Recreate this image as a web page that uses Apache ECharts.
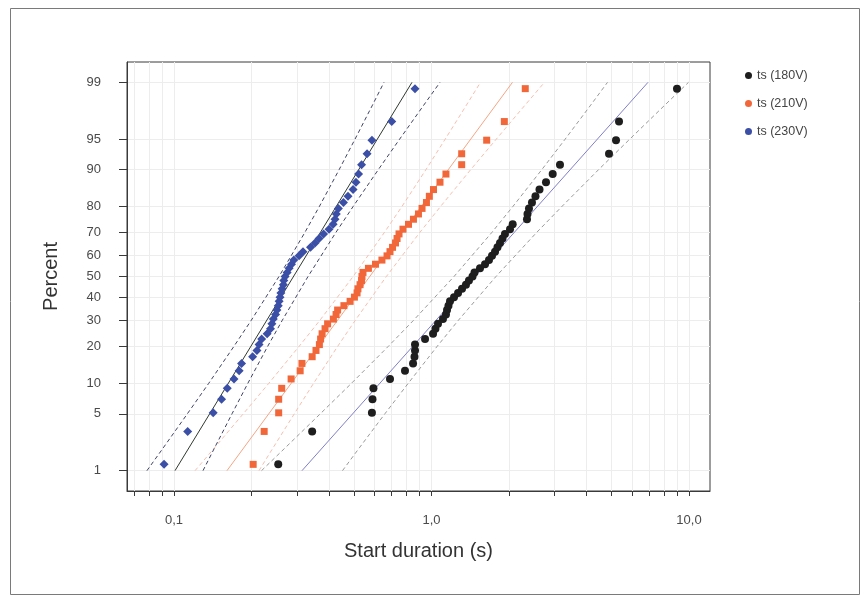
<!DOCTYPE html>
<html>
<head>
<meta charset="utf-8">
<script src="https://cdn.jsdelivr.net/npm/echarts@6/dist/echarts.min.js"></script>
<style>
html,body{margin:0;padding:0;background:#fff;}
#chart{width:865px;height:598px;}
</style>
</head>
<body>
<div id="chart"></div>
<script>
// ---- data ----
const seriesNames = ['ts (180V)', 'ts (210V)', 'ts (230V)'];
const percentTicks = [1, 5, 10, 20, 30, 40, 50, 60, 70, 80, 90, 95, 99];
const xLabelValues = [0.1, 1, 10];
const xLabelTexts = ['0,1', '1,0', '10,0'];
const xTickValues = [0.07, 0.08, 0.09, 0.1, 0.2, 0.3, 0.4, 0.5, 0.6, 0.7, 0.8, 0.9, 1, 2, 3, 4, 5, 6, 7, 8, 9, 10];

// plotting positions (percent) of the 51 ranked observations
const plotPercent = [1.22, 3.17, 5.12, 7.07, 9.02, 10.98, 12.93, 14.88, 16.83, 18.78,
  20.73, 22.68, 24.63, 26.59, 28.54, 30.49, 32.44, 34.39, 36.34, 38.29,
  40.24, 42.20, 44.15, 46.10, 48.05, 50.00, 51.95, 53.90, 55.85, 57.80,
  59.76, 61.71, 63.66, 65.61, 67.56, 69.51, 71.46, 73.41, 75.37, 77.32,
  79.27, 81.22, 83.17, 85.12, 87.07, 89.02, 90.98, 92.93, 94.88, 96.83, 98.78];

const ts180 = [0.254, 0.344, 0.587, 0.590, 0.595, 0.690, 0.789, 0.848, 0.859, 0.863,
  0.863, 0.944, 1.014, 1.036, 1.060, 1.108, 1.138, 1.149, 1.164, 1.180,
  1.223, 1.268, 1.314, 1.361, 1.398, 1.443, 1.469, 1.543, 1.614, 1.672,
  1.718, 1.765, 1.804, 1.845, 1.887, 1.929, 2.018, 2.067, 2.349, 2.360,
  2.391, 2.456, 2.534, 2.627, 2.784, 2.956, 3.155, 4.891, 5.207, 5.349, 8.982];
const ts210 = [0.203, 0.224, 0.255, 0.255, 0.262, 0.285, 0.309, 0.314, 0.344, 0.356,
  0.367, 0.371, 0.376, 0.386, 0.395, 0.416, 0.426, 0.432, 0.457, 0.483,
  0.502, 0.514, 0.518, 0.528, 0.535, 0.537, 0.542, 0.569, 0.606, 0.642,
  0.672, 0.690, 0.706, 0.725, 0.735, 0.748, 0.775, 0.814, 0.851, 0.890,
  0.919, 0.956, 0.981, 1.018, 1.079, 1.138, 1.310, 1.310, 1.638, 1.918, 2.313];
const ts230 = [0.0915, 0.113, 0.142, 0.153, 0.161, 0.171, 0.179, 0.183, 0.202, 0.210,
  0.214, 0.219, 0.230, 0.237, 0.240, 0.243, 0.248, 0.251, 0.254, 0.256,
  0.258, 0.260, 0.263, 0.266, 0.267, 0.270, 0.275, 0.280, 0.286, 0.292,
  0.306, 0.317, 0.339, 0.353, 0.366, 0.381, 0.400, 0.415, 0.422, 0.427,
  0.435, 0.455, 0.474, 0.496, 0.509, 0.521, 0.535, 0.562, 0.587, 0.701, 0.863];

// fitted lines (value at 1% and 99%)
const fitPercent = [1, 99];
const fit180 = [0.3141, 6.931];
const fit210 = [0.1606, 2.063];
const fit230 = [0.1009, 0.840];

// confidence bands
const bandPercent = [1, 2, 5, 10, 20, 30, 50, 70, 80, 90, 95, 98, 99];
const lo180 = [0.2187, 0.2701, 0.3700, 0.4882, 0.6772, 0.8519, 1.223, 1.712, 2.074, 2.684, 3.303, 4.153, 4.826];
const hi180 = [0.4512, 0.5243, 0.6592, 0.8113, 1.049, 1.272, 1.780, 2.555, 3.216, 4.460, 5.884, 8.059, 9.956];
const lo210 = [0.1207, 0.1435, 0.1858, 0.2332, 0.3053, 0.3687, 0.4963, 0.6552, 0.7688, 0.9520, 1.130, 1.367, 1.550];
const hi210 = [0.2138, 0.2424, 0.2933, 0.3481, 0.4311, 0.5059, 0.6679, 0.8990, 1.086, 1.421, 1.784, 2.309, 2.747];
const lo230 = [0.0785, 0.0908, 0.1127, 0.1363, 0.1705, 0.1996, 0.2557, 0.3218, 0.3673, 0.4381, 0.5045, 0.5900, 0.6539];
const hi230 = [0.1296, 0.1437, 0.1680, 0.1934, 0.2307, 0.2634, 0.3315, 0.4246, 0.4969, 0.6220, 0.7518, 0.9335, 1.079];

// ---- helpers: inverse normal (probability scale) and log10 (time scale) ----
function probit(p) {
  const a = [-3.969683028665376e+01, 2.209460984245205e+02, -2.759285104469687e+02, 1.383577518672690e+02, -3.066479806614716e+01, 2.506628277459239e+00];
  const b = [-5.447609879822406e+01, 1.615858368580409e+02, -1.556989798598866e+02, 6.680131188771972e+01, -1.328068155288572e+01];
  const c = [-7.784894002430293e-03, -3.223964580411365e-01, -2.400758277161838e+00, -2.549732539343734e+00, 4.374664141464968e+00, 2.938163982698783e+00];
  const d = [7.784695709041462e-03, 3.224671290700398e-01, 2.445134137142996e+00, 3.754408661907416e+00];
  const pl = 0.02425, ph = 1 - pl;
  let q, r;
  if (p < pl) {
    q = Math.sqrt(-2 * Math.log(p));
    return (((((c[0]*q+c[1])*q+c[2])*q+c[3])*q+c[4])*q+c[5]) / ((((d[0]*q+d[1])*q+d[2])*q+d[3])*q+1);
  }
  if (p <= ph) {
    q = p - 0.5; r = q * q;
    return (((((a[0]*r+a[1])*r+a[2])*r+a[3])*r+a[4])*r+a[5])*q / (((((b[0]*r+b[1])*r+b[2])*r+b[3])*r+b[4])*r+1);
  }
  q = Math.sqrt(-2 * Math.log(1 - p));
  return -(((((c[0]*q+c[1])*q+c[2])*q+c[3])*q+c[4])*q+c[5]) / ((((d[0]*q+d[1])*q+d[2])*q+d[3])*q+1);
}
const zOf = pct => probit(pct / 100);
const lx = v => Math.log10(v);
function pairs(xs, ps) { return xs.map((v, i) => [lx(v), zOf(ps[i])]); }

const yTickZ = percentTicks.map(zOf);
const xTickLog = xTickValues.map(lx);
const xLabelLog = xLabelValues.map(lx);

const colors = { k: '#1e1e1e', o: '#f2673a', b: '#3c4fa6' };

function lineSeries(name, data, color, dashed) {
  return {
    type: 'line', name: name, data: data, showSymbol: false, symbol: 'none',
    silent: true, z: 1, legendHoverLink: false,
    lineStyle: { color: color, width: 1, type: dashed ? [4, 3] : 'solid' }
  };
}

const chart = echarts.init(document.getElementById('chart'), null, { renderer: 'canvas' });
const fontFam = '"Liberation Sans", Arial, sans-serif';

chart.setOption({
  animation: false,
  backgroundColor: '#ffffff',
  textStyle: { fontFamily: fontFam },
  graphic: [{
    type: 'rect', shape: { x: 10.5, y: 8.5, width: 849, height: 586 },
    style: { fill: 'none', stroke: '#7a7a7a', lineWidth: 1 }, silent: true, z: -10
  }],
  grid: { left: 127, right: 155, top: 62, bottom: 107, show: true, borderColor: '#3a3a3a', borderWidth: 1, backgroundColor: 'transparent' },
  legend: {
    orient: 'vertical', left: 740, top: 64, itemGap: 15, itemWidth: 7, itemHeight: 7,
    icon: 'circle',
    textStyle: { color: '#444', fontSize: 12.5, fontFamily: fontFam },
    data: seriesNames.map(n => ({ name: n, icon: 'circle' }))
  },
  xAxis: {
    type: 'value', min: -1.1825, max: 1.0816,
    name: 'Start duration (s)', nameLocation: 'middle', nameGap: 50,
    nameTextStyle: { fontSize: 20, color: '#333', fontFamily: fontFam },
    axisLine: { show: true, onZero: false, lineStyle: { color: '#3a3a3a' } },
    axisTick: { show: true, inside: false, length: 5, customValues: xTickLog, lineStyle: { color: '#3a3a3a' } },
    axisLabel: {
      customValues: xLabelLog, margin: 23, fontSize: 13, color: '#4a4a4a',
      formatter: function (v) {
        for (let i = 0; i < xLabelLog.length; i++) if (Math.abs(xLabelLog[i] - v) < 1e-6) return xLabelTexts[i];
        return '';
      }
    },
    splitLine: { show: true, lineStyle: { color: '#ededed', width: 1 } }
  },
  yAxis: {
    type: 'value', min: -2.57, max: 2.57,
    name: 'Percent', nameLocation: 'middle', nameGap: 66, nameRotate: 90,
    nameTextStyle: { fontSize: 20, color: '#333', fontFamily: fontFam },
    axisLine: { show: true, onZero: false, lineStyle: { color: '#3a3a3a' } },
    axisTick: { show: true, inside: false, length: 8, customValues: yTickZ, lineStyle: { color: '#3a3a3a' } },
    axisLabel: {
      customValues: yTickZ, margin: 26, fontSize: 13, color: '#4a4a4a',
      formatter: function (v) {
        for (let i = 0; i < yTickZ.length; i++) if (Math.abs(yTickZ[i] - v) < 1e-6) return String(percentTicks[i]);
        return '';
      }
    },
    splitLine: { show: true, lineStyle: { color: '#ededed', width: 1 } }
  },
  series: [
    // bands and fits
    lineSeries('fit180', pairs(fit180, fitPercent), '#8080c8', false),
    lineSeries('lo180', pairs(lo180, bandPercent), '#9a9a9a', true),
    lineSeries('hi180', pairs(hi180, bandPercent), '#9a9a9a', true),
    lineSeries('fit210', pairs(fit210, fitPercent), '#f4a685', false),
    lineSeries('lo210', pairs(lo210, bandPercent), '#f6bfae', true),
    lineSeries('hi210', pairs(hi210, bandPercent), '#f6bfae', true),
    lineSeries('fit230', pairs(fit230, fitPercent), '#2e3a30', false),
    lineSeries('lo230', pairs(lo230, bandPercent), '#3e4468', true),
    lineSeries('hi230', pairs(hi230, bandPercent), '#3e4468', true),
    // points
    { type: 'scatter', name: seriesNames[0], data: pairs(ts180, plotPercent), symbol: 'circle', symbolSize: 8, z: 3,
      itemStyle: { color: colors.k, opacity: 1 } },
    { type: 'scatter', name: seriesNames[1], data: pairs(ts210, plotPercent), symbol: 'rect', symbolSize: 7, z: 3,
      itemStyle: { color: colors.o, opacity: 1 } },
    { type: 'scatter', name: seriesNames[2], data: pairs(ts230, plotPercent), symbol: 'diamond', symbolSize: 9, z: 3,
      itemStyle: { color: colors.b, opacity: 1 } }
  ]
});
</script>
</body>
</html>
